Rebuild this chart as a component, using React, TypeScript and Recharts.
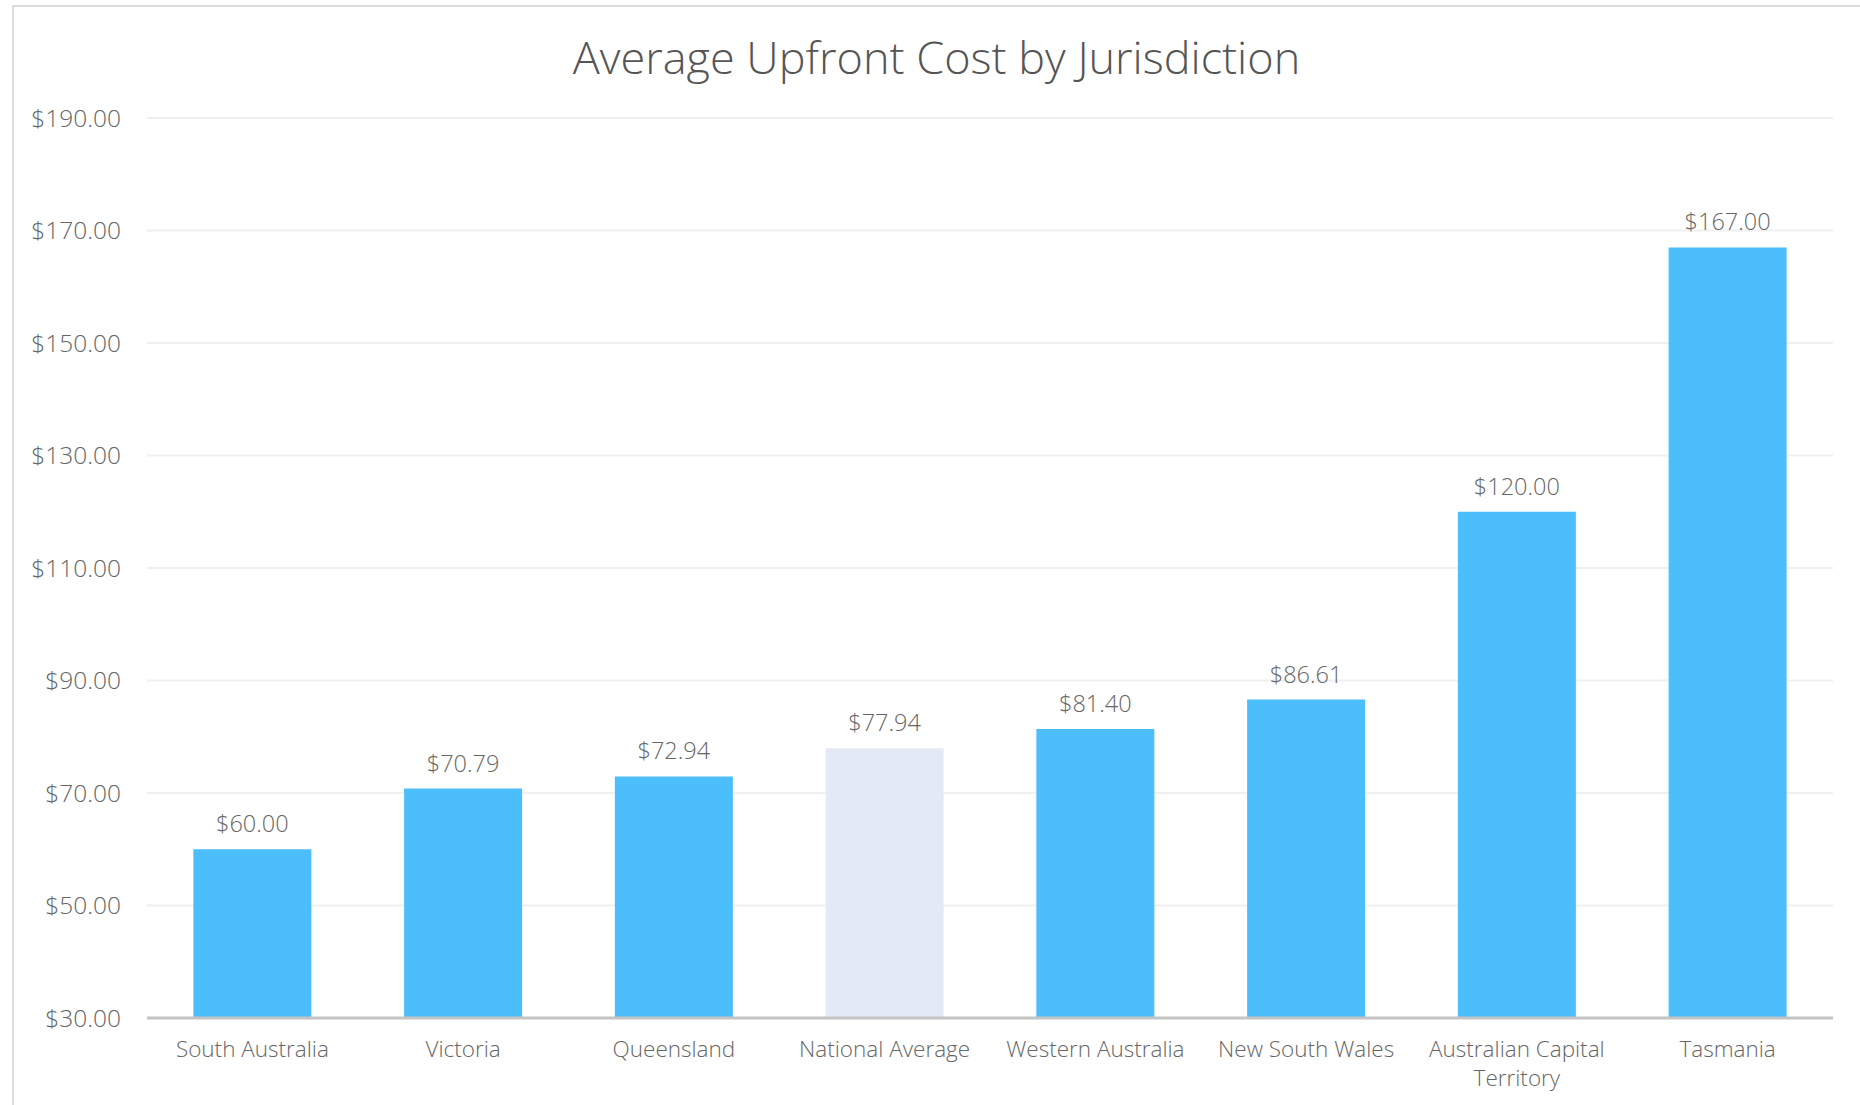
import React from 'react';
import { BarChart, Bar, XAxis, YAxis, CartesianGrid, LabelList, Cell } from 'recharts';

const categories = ['South Australia', 'Victoria', 'Queensland', 'National Average', 'Western Australia', 'New South Wales', 'Australian Capital Territory', 'Tasmania'];
const costs = [60.0, 70.79, 72.94, 77.94, 81.4, 86.61, 120.0, 167.0];
const yTicks = [30, 50, 70, 90, 110, 130, 150, 170, 190];
const highlight = 'National Average';

const data = categories.map((name, i) => ({ name, cost: costs[i] }));

const FONT = '"Open Sans", sans-serif';
const fmt = (v: number) => `$${Number(v).toFixed(2)}`;

const wrap = (s: string, max: number) => {
  const words = s.split(' ');
  const lines: string[] = [];
  let cur = '';
  for (const w of words) {
    const next = cur ? cur + ' ' + w : w;
    if (next.length > max && cur) {
      lines.push(cur);
      cur = w;
    } else cur = next;
  }
  if (cur) lines.push(cur);
  return lines;
};

const XTick = (props: any) => {
  const { x, y, payload } = props;
  const lines = wrap(String(payload.value), 20);
  return (
    <text
      x={x}
      y={y}
      textAnchor="middle"
      fill="#666"
      style={{ fontFamily: FONT, fontWeight: 300, fontSize: 22.5 }}
    >
      {lines.map((l, i) => (
        <tspan key={i} x={x} dy={i === 0 ? '0.71em' : '1.27em'}>
          {l}
        </tspan>
      ))}
    </text>
  );
};

export default function App() {
  return (
    <div style={{ position: 'absolute', left: 0, top: 0, width: 1860, height: 1105, background: '#fff', overflow: 'hidden' }}>
      <div style={{ position: 'absolute', left: 12, top: 5, width: 1900, height: 1200, borderLeft: '2px solid #dcdcdc', borderTop: '2px solid #dcdcdc' }} />
      <div
        style={{
          position: 'absolute', left: 13, width: 1847, top: 26, textAlign: 'center',
          fontFamily: FONT, fontWeight: 300, fontSize: 45, color: '#555', lineHeight: '62px',
        }}
      >
        Average Upfront Cost by Jurisdiction
      </div>
      <div style={{ position: 'absolute', left: 0, top: 0 }}>
        <BarChart width={1860} height={1105} data={data} margin={{ top: 118, right: 27, bottom: 0, left: 0 }} barCategoryGap="22%">
          <CartesianGrid vertical={false} stroke="#f0f0f0" strokeWidth={2} />
          <XAxis
            dataKey="name"
            height={87}
            axisLine={{ stroke: '#c4c4c4', strokeWidth: 3 }}
            tickLine={false}
            tickSize={0}
            tickMargin={23}
            interval={0}
            tick={<XTick />}
          />
          <YAxis
            width={147}
            domain={[30, 190]}
            ticks={yTicks}
            axisLine={false}
            tickLine={false}
            tickSize={0}
            tickMargin={26}
            tickFormatter={fmt}
            tick={{ fill: '#666', fontFamily: FONT, fontWeight: 300, fontSize: 24.5 }}
          />
          <Bar dataKey="cost" isAnimationActive={false}>
            {data.map((d) => (
              <Cell key={d.name} fill={d.name === highlight ? '#e3eaf6' : '#4dbefc'} />
            ))}
            <LabelList
              dataKey="cost"
              position="top"
              offset={17}
              formatter={fmt}
              style={{ fill: '#666', fontFamily: FONT, fontWeight: 300, fontSize: 23.5 }}
            />
          </Bar>
        </BarChart>
      </div>
    </div>
  );
}
